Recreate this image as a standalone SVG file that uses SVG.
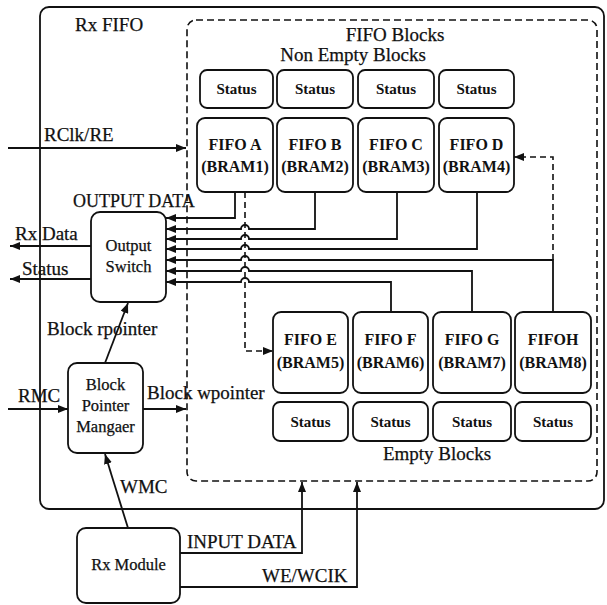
<svg xmlns="http://www.w3.org/2000/svg" width="607" height="605" viewBox="0 0 607 605">
<style>
.box{fill:#fff;stroke:#111;stroke-width:1.8}
.dash{fill:none;stroke:#111;stroke-width:1.6;stroke-dasharray:7 4}
.ln{fill:none;stroke:#111;stroke-width:1.8}
.dl{fill:none;stroke:#111;stroke-width:1.6;stroke-dasharray:6 4}
.lbl{font-family:"Liberation Serif","Times New Roman",serif;font-size:19px;fill:#111;stroke:#111;stroke-width:0.25}
.sm{font-family:"Liberation Serif","Times New Roman",serif;font-size:16.5px;fill:#111;text-anchor:middle;stroke:#111;stroke-width:0.25}
.st{font-family:"Liberation Serif","Times New Roman",serif;font-size:15px;font-weight:bold;fill:#111;text-anchor:middle}
.fb{font-family:"Liberation Serif","Times New Roman",serif;font-size:16px;font-weight:bold;fill:#111;text-anchor:middle}
</style>
<defs>
<marker id="ah" viewBox="0 0 10 8" refX="10" refY="4" markerWidth="10" markerHeight="8" markerUnits="userSpaceOnUse" orient="auto">
<path d="M0 0 L10 4 L0 8 Z" fill="#111"/>
</marker>
</defs>

<g id="rxfifo">
<rect class="box" x="40" y="7" width="564" height="502" rx="9" style="fill:none"/>
<text class="lbl" x="75" y="31">Rx FIFO</text>
</g>

<g id="fifoblocks">
<rect class="dash" x="187" y="20" width="410" height="461" rx="9"/>
<text class="lbl" x="395" y="41" text-anchor="middle">FIFO Blocks</text>
<text class="lbl" x="353" y="61" text-anchor="middle">Non Empty Blocks</text>
<text class="lbl" x="437" y="460" text-anchor="middle">Empty Blocks</text>
</g>

<g id="status-top">
<rect class="box" x="200" y="70" width="73" height="38" rx="7"/><text class="st" x="236.5" y="94">Status</text>
<rect class="box" x="277" y="70" width="76" height="38" rx="7"/><text class="st" x="315" y="94">Status</text>
<rect class="box" x="358" y="70" width="76" height="38" rx="7"/><text class="st" x="396" y="94">Status</text>
<rect class="box" x="439" y="70" width="75" height="38" rx="7"/><text class="st" x="476.5" y="94">Status</text>
</g>

<g id="fifoA"><rect class="box" x="197" y="118" width="76" height="74" rx="8"/><text class="fb" x="235" y="150">FIFO A</text><text class="fb" x="235" y="172">(BRAM1)</text></g>
<g id="fifoB"><rect class="box" x="277" y="118" width="76" height="74" rx="8"/><text class="fb" x="315" y="150">FIFO B</text><text class="fb" x="315" y="172">(BRAM2)</text></g>
<g id="fifoC"><rect class="box" x="358" y="118" width="76" height="74" rx="8"/><text class="fb" x="396" y="150">FIFO C</text><text class="fb" x="396" y="172">(BRAM3)</text></g>
<g id="fifoD"><rect class="box" x="439" y="118" width="75" height="74" rx="8"/><text class="fb" x="476.5" y="150">FIFO D</text><text class="fb" x="476.5" y="172">(BRAM4)</text></g>

<g id="fifoE"><rect class="box" x="273" y="312" width="75" height="81" rx="8"/><text class="fb" x="310.5" y="345">FIFO E</text><text class="fb" x="310.5" y="368">(BRAM5)</text></g>
<g id="fifoF"><rect class="box" x="353" y="312" width="75" height="81" rx="8"/><text class="fb" x="390.5" y="345">FIFO F</text><text class="fb" x="390.5" y="368">(BRAM6)</text></g>
<g id="fifoG"><rect class="box" x="433" y="312" width="78" height="81" rx="8"/><text class="fb" x="472" y="345">FIFO G</text><text class="fb" x="472" y="368">(BRAM7)</text></g>
<g id="fifoH"><rect class="box" x="515" y="312" width="76" height="81" rx="8"/><text class="fb" x="553" y="345">FIFOH</text><text class="fb" x="553" y="368">(BRAM8)</text></g>

<g id="status-bottom">
<rect class="box" x="273" y="402" width="75" height="39" rx="7"/><text class="st" x="310.5" y="427">Status</text>
<rect class="box" x="353" y="402" width="75" height="39" rx="7"/><text class="st" x="390.5" y="427">Status</text>
<rect class="box" x="433" y="402" width="78" height="39" rx="7"/><text class="st" x="472" y="427">Status</text>
<rect class="box" x="515" y="402" width="76" height="39" rx="7"/><text class="st" x="553" y="427">Status</text>
</g>

<g id="outswitch">
<rect class="box" x="91" y="212" width="75" height="90" rx="9"/>
<text class="sm" x="128.5" y="251">Output</text>
<text class="sm" x="128.5" y="272">Switch</text>
</g>

<g id="bpm">
<rect class="box" x="68" y="363" width="75" height="90" rx="9"/>
<text class="sm" x="105.5" y="390">Block</text>
<text class="sm" x="105.5" y="411">Pointer</text>
<text class="sm" x="105.5" y="432">Mangaer</text>
</g>

<g id="rxmodule">
<rect class="box" x="77" y="528" width="103" height="75" rx="9"/>
<text class="sm" x="128.5" y="570">Rx Module</text>
</g>

<g id="connectors">
<path class="ln" marker-end="url(#ah)" d="M235 192 V218 H166"/>
<path class="ln" marker-end="url(#ah)" d="M315 192 V229 H249 A4 4 0 0 0 241 229 H166"/>
<path class="ln" marker-end="url(#ah)" d="M397 192 V239 H249 A4 4 0 0 0 241 239 H166"/>
<path class="ln" marker-end="url(#ah)" d="M477 192 V249 H249 A4 4 0 0 0 241 249 H166"/>
<path class="ln" marker-end="url(#ah)" d="M553 312 V260 H249 A4 4 0 0 0 241 260 H166"/>
<path class="ln" marker-end="url(#ah)" d="M472 312 V271 H249 A4 4 0 0 0 241 271 H166"/>
<path class="ln" marker-end="url(#ah)" d="M391 312 V282 H249 A4 4 0 0 0 241 282 H166"/>
<path class="dl" marker-end="url(#ah)" d="M245 192 V351 H273"/>
<path class="dl" marker-end="url(#ah)" d="M553 260 V157 H514"/>
<path class="ln" marker-end="url(#ah)" d="M8 148 H186"/>
<text class="lbl" x="44" y="141">RClk/RE</text>
<text class="lbl" x="73" y="207" style="font-size:18px">OUTPUT DATA</text>
<path class="ln" marker-end="url(#ah)" d="M91 246 H10"/>
<text class="lbl" x="15" y="240">Rx Data</text>
<path class="ln" marker-end="url(#ah)" d="M91 279 H10"/>
<text class="lbl" x="22" y="275">Status</text>
<path class="ln" marker-end="url(#ah)" d="M105 363 L128 303"/>
<text class="lbl" x="47" y="335">Block rpointer</text>
<path class="ln" marker-end="url(#ah)" d="M8 409 H68"/>
<text class="lbl" x="18" y="402">RMC</text>
<path class="ln" marker-end="url(#ah)" d="M143 409 H186"/>
<text class="lbl" x="147" y="399">Block wpointer</text>
<path class="ln" marker-end="url(#ah)" d="M128 528 L105 454"/>
<text class="lbl" x="120" y="493">WMC</text>
<path class="ln" marker-end="url(#ah)" d="M180 553 H302 V482"/>
<text class="lbl" x="187" y="548">INPUT DATA</text>
<path class="ln" marker-end="url(#ah)" d="M180 587 H357 V482"/>
<text class="lbl" x="262" y="582">WE/WCIK</text>
</g>
</svg>
